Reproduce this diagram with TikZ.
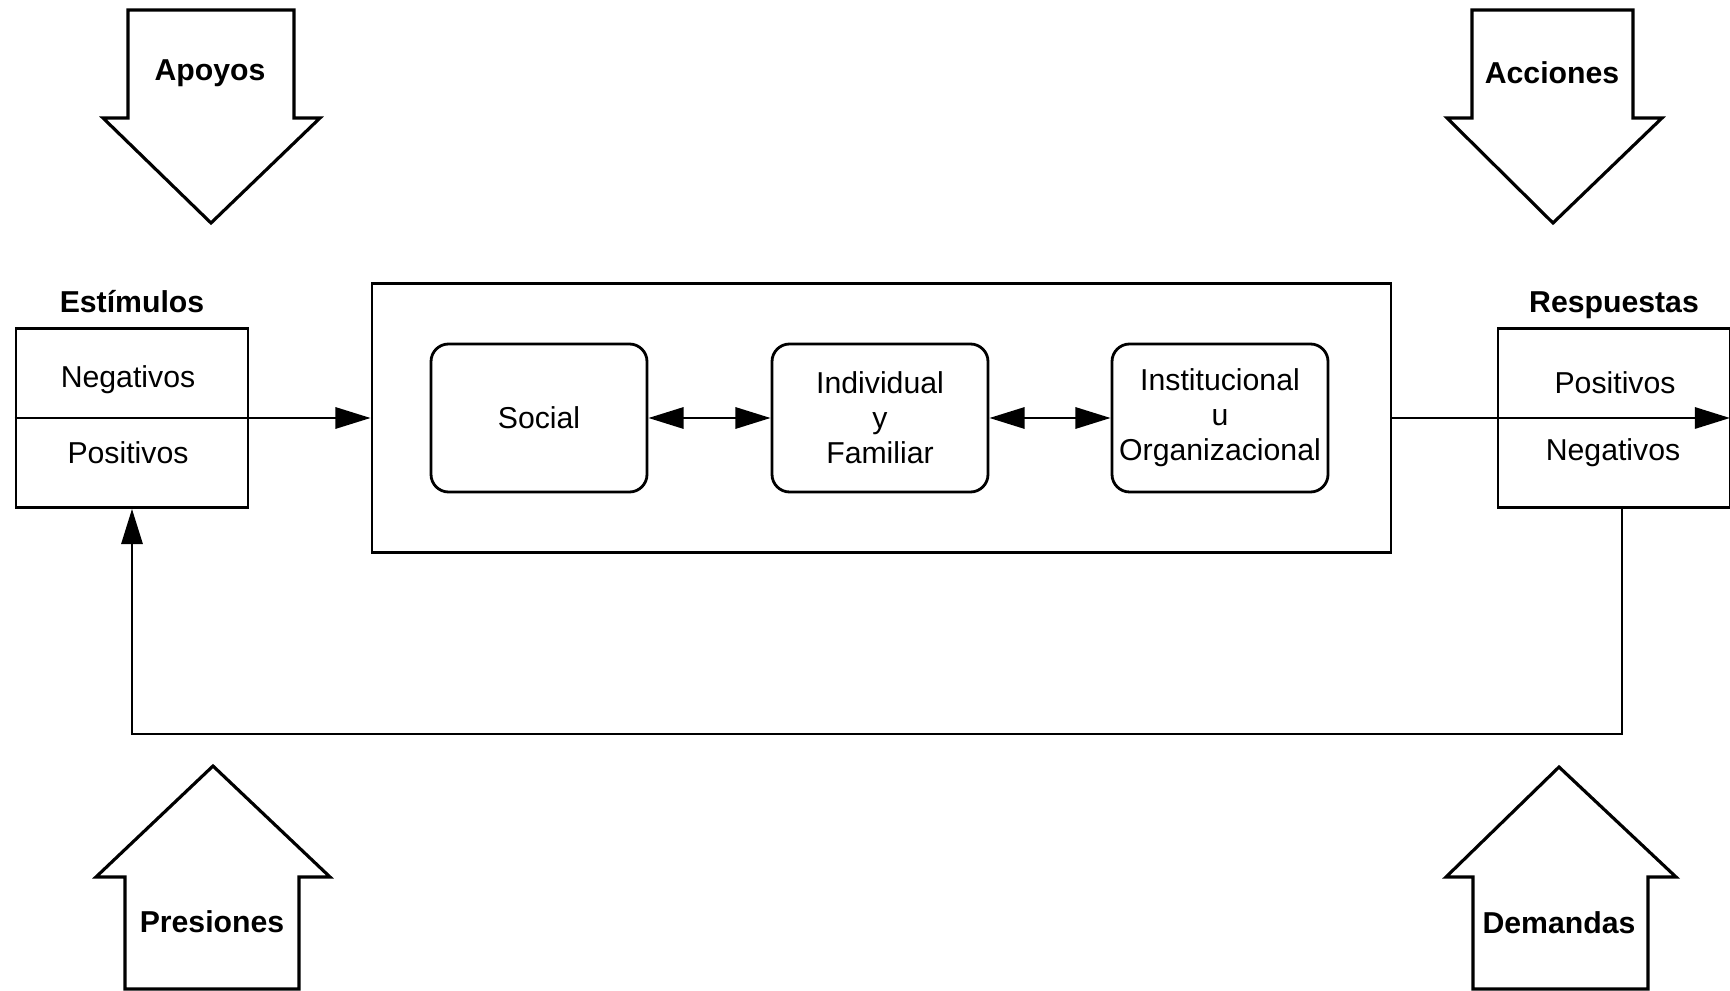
\documentclass[tikz,border=0pt]{standalone}
\usepackage{fontspec}
\setmainfont{Liberation Sans}
\usepackage{tikz}
\usetikzlibrary{arrows.meta,positioning,calc}
\tikzset{
  plaintxt/.style={font=\fontsize{8.6}{10}\selectfont, inner sep=1pt, align=center},
  headtxt/.style={font=\fontsize{8.6}{10}\selectfont\bfseries, inner sep=1pt, align=center},
  listbox/.style={draw, line width=0.8pt, minimum width=2.32cm, minimum height=1.79cm, inner sep=0pt},
  sysbox/.style={draw, line width=0.8pt, minimum width=10.19cm, minimum height=2.69cm, inner sep=0pt},
  levelbox/.style={draw, rounded corners=5pt, line width=0.8pt, align=center, minimum width=2.16cm, minimum height=1.48cm, inner sep=2pt, font=\fontsize{8.6}{10}\selectfont},
  bigarrow/.style={draw, line width=0.9pt, line join=miter},
  flow/.style={-{Triangle[length=10pt,width=6pt]}, line width=0.8pt},
  flowboth/.style={{Triangle[length=10pt,width=6pt]}-{Triangle[length=10pt,width=6pt]}, line width=0.8pt}
}

\begin{document}
\begin{tikzpicture}
\useasboundingbox (0,0) rectangle (17.30,9.90);
% block arrows (entradas y salidas)
\draw[bigarrow] (1.28,9.80) -- (2.94,9.80) -- (2.94,8.72) -- (3.20,8.72) -- (2.11,7.67) -- (1.03,8.72) -- (1.28,8.72) -- cycle;
\draw[bigarrow] (14.72,9.80) -- (16.33,9.80) -- (16.33,8.72) -- (16.62,8.72) -- (15.53,7.67) -- (14.47,8.72) -- (14.72,8.72) -- cycle;
\draw[bigarrow] (1.25,0.01) -- (1.25,1.13) -- (0.96,1.13) -- (2.13,2.24) -- (3.30,1.13) -- (2.99,1.13) -- (2.99,0.01) -- cycle;
\draw[bigarrow] (14.73,0.01) -- (14.73,1.13) -- (14.46,1.13) -- (15.59,2.23) -- (16.76,1.13) -- (16.48,1.13) -- (16.48,0.01) -- cycle;
\node[headtxt] (apoyos) at (2.10,9.17) {Apoyos};
\node[headtxt] (acciones) at (15.52,9.17) {Acciones};
\node[headtxt] (presiones) at (2.12,0.68) {Presiones};
\node[headtxt] (demandas) at (15.59,0.67) {Demandas};
% estimulos y respuestas
\node[listbox] (stim) at (1.32,5.72) {};
\node[headtxt] (stimhead) at (1.32,6.88) {Estímulos};
\node[plaintxt] (stimneg) at (1.28,6.10) {Negativos};
\node[plaintxt] (stimpos) at (1.28,5.37) {Positivos};
\node[listbox] (resp) at (16.14,5.72) {};
\node[headtxt] (resphead) at (16.14,6.85) {Respuestas};
\node[plaintxt] (resppos) at (16.15,6.07) {Positivos};
\node[plaintxt] (respneg) at (16.13,5.37) {Negativos};
% sistema
\node[sysbox] (sys) at (8.815,5.72) {};
\node[levelbox] (social) at (5.39,5.72) {Social};
\node[levelbox] (indiv) at (8.80,5.72) {Individual\\y\\Familiar};
\node[levelbox] (instit) at (12.20,5.72) {Institucional\\u\\Organizacional};
\coordinate (outend) at (17.30,5.72);
\coordinate (fbcorner) at (16.22,2.56);
\draw[flow] (stim.west) -- (sys.west);
\draw[flowboth] (social) -- (indiv);
\draw[flowboth] (indiv) -- (instit);
\draw[flow] (sys.east) -- (outend);
\draw[flow] (resp.south -| fbcorner) -- (fbcorner) -- (fbcorner -| stim.south) -- (stim.south);
\end{tikzpicture}
\end{document}
